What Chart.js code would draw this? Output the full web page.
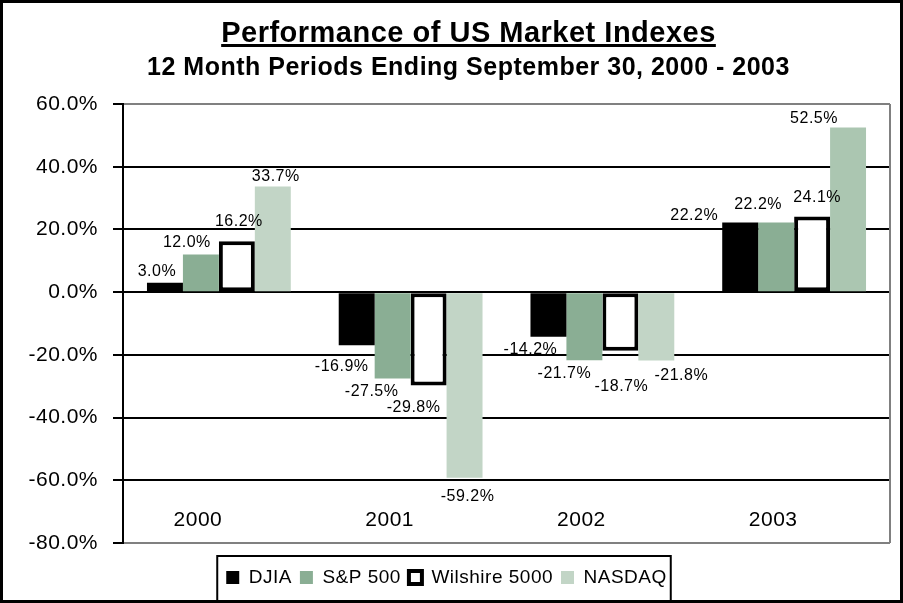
<!DOCTYPE html>
<html>
<head>
<meta charset="utf-8">
<title>Performance of US Market Indexes</title>
<script src="https://cdn.jsdelivr.net/npm/chart.js@4.4.0/dist/chart.umd.min.js"></script>
<style>
  html, body { margin: 0; padding: 0; background: #fff; }
  #frame { width: 903px; height: 603px; border: 3px solid #000; box-sizing: border-box; }
  canvas { display: block; }
</style>
</head>
<body>
<div id="frame"><canvas id="perf" width="897" height="597"></canvas></div>
<script>
// data
var years = ["2000", "2001", "2002", "2003"];
var djia = [3.0, -16.9, -14.2, 22.2];
var sp500 = [12.0, -27.5, -21.7, 22.2];
var wilshire = [16.2, -29.8, -18.7, 24.1];
var nasdaq = [33.7, -59.2, -21.8, 52.5];
var yTicks = [60, 40, 20, 0, -20, -40, -60, -80];

// the value labels were hand placed in the original, [dx, dy] from the bar end
var labelNudge = [
  [[-8, -11], [-15, 21], [-18, 13], [-46, -7]],
  [[-14, -12], [-21, 13], [-20, 13], [-18, -18]],
  [[2, -20], [-15, 22], [1, 36], [5, -19]],
  [[3, -10], [3, 19], [25, 15], [-34, -9]]
];

var FONT = '"Liberation Sans", Arial, Helvetica, sans-serif';
var SPACING = '0.5px';
Chart.defaults.font.family = FONT;
Chart.defaults.color = '#000';

function pct(v) { return v.toFixed(1) + '%'; }

// excel text is a bit wider than the canvas one
var spacing = {
  id: 'spacing',
  beforeUpdate: function(chart) { chart.ctx.letterSpacing = SPACING; },
  beforeDraw: function(chart) { chart.ctx.letterSpacing = SPACING; },
  // titles sit a bit right of the canvas centre in the original
  afterLayout: function(chart) {
    chart.boxes.forEach(function(b) {
      if (b.position === 'top') { b.left += 22; b.right += 22; }
    });
  }
};

// gray frame on the right side of the plot
var frame = {
  id: 'frame',
  beforeDatasetsDraw: function(chart) {
    var a = chart.chartArea, ctx = chart.ctx;
    ctx.save();
    ctx.strokeStyle = '#808080';
    ctx.lineWidth = 2;
    ctx.beginPath();
    ctx.moveTo(a.right, a.top);
    ctx.lineTo(a.right, a.bottom);
    ctx.stroke();
    ctx.restore();
  }
};

// values on the bars and year names inside the plot
var labels = {
  id: 'labels',
  afterDatasetsDraw: function(chart) {
    var ctx = chart.ctx;
    ctx.save();
    ctx.letterSpacing = SPACING;
    ctx.fillStyle = '#000';
    ctx.textAlign = 'center';
    ctx.textBaseline = 'middle';
    ctx.font = '16px ' + FONT;
    chart.data.datasets.forEach(function(ds, i) {
      chart.getDatasetMeta(i).data.forEach(function(bar, j) {
        var n = labelNudge[i][j];
        ctx.fillText(pct(ds.data[j]), bar.x + n[0], bar.y + n[1]);
      });
    });
    var xs = chart.scales.x;
    ctx.font = '21px ' + FONT;
    years.forEach(function(y, j) {
      ctx.fillText(y, xs.getPixelForValue(j) - 21, chart.chartArea.bottom - 23);
    });
    ctx.restore();
  }
};

// underline under the title, box round the legend
var extras = {
  id: 'extras',
  afterDraw: function(chart) {
    var ctx = chart.ctx;
    var t = chart.titleBlock;
    ctx.save();
    ctx.letterSpacing = SPACING;
    ctx.font = 'bold 29px ' + FONT;
    var w = ctx.measureText(chart.options.plugins.title.text).width;
    var cx = (t.left + t.right) / 2;
    ctx.fillStyle = '#000';
    ctx.fillRect(cx - w / 2, 41, w, 3);

    var hb = chart.legend.legendHitBoxes;
    var last = hb[hb.length - 1];
    var l = hb[0].left - 9, r = last.left + last.width + 4;
    ctx.strokeStyle = '#000';
    ctx.lineWidth = 2;
    ctx.strokeRect(l, chart.legend.top - 4, r - l, chart.height);
    ctx.restore();
  }
};

var nasdaqColor = function(c) {
  return c.dataIndex === 3 ? '#abc6b1' : '#c2d5c6';
};

new Chart(document.getElementById('perf'), {
  type: 'bar',
  data: {
    labels: years,
    datasets: [
      { label: 'DJIA', data: djia, backgroundColor: '#000000', borderWidth: 0 },
      { label: 'S&P 500', data: sp500, backgroundColor: '#8aae94', borderWidth: 0 },
      { label: 'Wilshire 5000', data: wilshire, backgroundColor: '#ffffff',
        borderColor: '#000000', borderWidth: 4, borderSkipped: false },
      { label: 'NASDAQ', data: nasdaq, backgroundColor: nasdaqColor, borderWidth: 0 }
    ]
  },
  options: {
    responsive: false,
    animation: false,
    categoryPercentage: 0.75,
    barPercentage: 1.0,
    layout: { padding: { left: 0, right: 10, top: 0, bottom: 3 } },
    plugins: {
      title: {
        display: true,
        text: 'Performance of US Market Indexes',
        font: { size: 29, weight: 'bold' },
        color: '#000',
        padding: { top: 13.5, bottom: 0 }
      },
      subtitle: {
        display: true,
        text: '12 Month Periods Ending September 30, 2000 - 2003',
        font: { size: 25, weight: 'bold' },
        color: '#000',
        padding: { top: 1.7, bottom: 21 }
      },
      legend: {
        position: 'bottom',
        labels: {
          boxWidth: 13,
          boxHeight: 13,
          padding: 8,
          font: { size: 19 },
          color: '#000'
        }
      },
      tooltip: { enabled: false }
    },
    scales: {
      x: {
        grid: { display: false },
        border: { display: false },
        ticks: { display: false },
        afterFit: function(s) { s.height = 17; }
      },
      y: {
        min: -80,
        max: 60,
        afterBuildTicks: function(s) {
          s.ticks = yTicks.map(function(v) { return { value: v }; });
        },
        afterFit: function(s) { s.width = 120; },
        ticks: {
          padding: 15,
          font: { size: 21 },
          color: '#000',
          callback: function(v) { return pct(v); }
        },
        grid: {
          lineWidth: 2,
          tickLength: 10,
          tickColor: '#000',
          color: function(c) {
            var v = c.tick && c.tick.value;
            return (v === 60 || v === -80) ? '#808080' : '#000';
          }
        },
        border: { color: '#000', width: 2 }
      }
    }
  },
  plugins: [spacing, frame, labels, extras]
});
</script>
</body>
</html>
